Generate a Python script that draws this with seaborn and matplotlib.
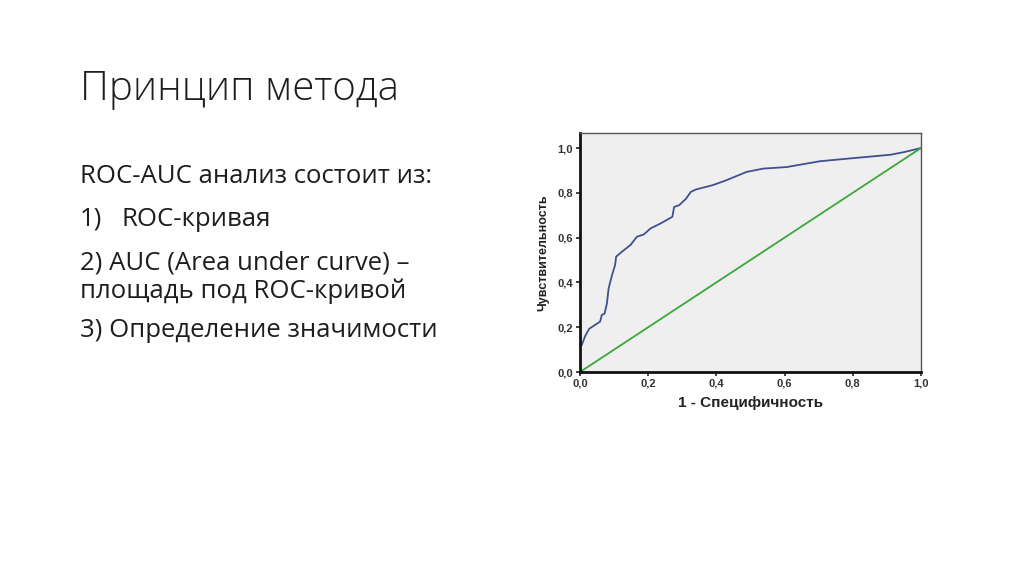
import matplotlib
matplotlib.use("Agg")
import matplotlib.pyplot as plt
import seaborn as sns

# ROC curve (1 - specificity, sensitivity)
fpr = [0.0, 0.005, 0.015, 0.027, 0.044, 0.059, 0.064, 0.072, 0.079, 0.084, 0.094,
       0.103, 0.106, 0.123, 0.148, 0.167, 0.187, 0.207, 0.236, 0.271, 0.276,
       0.291, 0.310, 0.325, 0.340, 0.389, 0.429, 0.488, 0.537, 0.606, 0.704,
       0.803, 0.911, 0.951, 1.0]
tpr = [0.114, 0.12, 0.16, 0.193, 0.21, 0.225, 0.255, 0.26, 0.307, 0.374, 0.433,
       0.478, 0.515, 0.537, 0.567, 0.604, 0.614, 0.641, 0.663, 0.693, 0.737,
       0.745, 0.772, 0.804, 0.815, 0.834, 0.856, 0.893, 0.908, 0.915, 0.941,
       0.955, 0.970, 0.982, 1.0]
ref_x = [0.0, 1.0]
ref_y = [0.0, 1.0]
ticks = [0.0, 0.2, 0.4, 0.6, 0.8, 1.0]
tick_labels = ["0,0", "0,2", "0,4", "0,6", "0,8", "1,0"]

title = "Принцип метода"
lines = ["ROC-AUC анализ состоит из:",
         None,
         "2) AUC (Area under curve) –",
         "площадь под ROC-кривой",
         "3) Определение значимости"]
baselines = [183, 226, 269, 298, 337]

sns.set_style("white")
plt.rcParams["font.family"] = ["Open Sans", "DejaVu Sans"]

fig = plt.figure(figsize=(10.24, 5.76), dpi=100)
fig.patch.set_facecolor("white")

W, H = 1024, 576
TXT = "#1e1e1e"
fig.text(80 / W, 1 - 100 / H, title, fontsize=29, fontweight="light",
         color=TXT, va="baseline", ha="left")
for txt, b in zip(lines, baselines):
    if txt is None:
        continue
    fig.text(80 / W, 1 - b / H, txt, fontsize=18.5, color=TXT,
             va="baseline", ha="left")
fig.text(80 / W, 1 - 226 / H, "1)", fontsize=18.5, color=TXT,
         va="baseline", ha="left")
fig.text(122 / W, 1 - 226 / H, "ROC-кривая", fontsize=18.5, color=TXT,
         va="baseline", ha="left")

ax = fig.add_axes([580 / W, 1 - 372 / H, 341 / W, 239 / H])
ax.set_facecolor("#efefef")
sns.lineplot(x=fpr, y=tpr, ax=ax, estimator=None, sort=False,
             color="#42508f", linewidth=1.3)
sns.lineplot(x=ref_x, y=ref_y, ax=ax, estimator=None, sort=False,
             color="#3aa83a", linewidth=1.3)
ax.set_xlim(0, 1.0)
ax.set_ylim(0, 1.067)
ax.set_xticks(ticks)
ax.set_yticks(ticks)
ax.set_xticklabels(tick_labels)
ax.set_yticklabels(tick_labels)
for lab in ax.get_xticklabels() + ax.get_yticklabels():
    lab.set_family(["Liberation Sans", "DejaVu Sans"])
    lab.set_fontweight("bold")
    lab.set_fontsize(8)
    lab.set_color("#333333")
ax.tick_params(axis="both", direction="out", length=3, width=1.2,
               color="#222222", pad=2, bottom=True, left=True)
for side in ["left", "bottom"]:
    ax.spines[side].set_linewidth(2)
    ax.spines[side].set_color("#111111")
for side in ["top", "right"]:
    ax.spines[side].set_linewidth(1)
    ax.spines[side].set_color("#555555")
ax.set_xlabel("1 - Специфичность", family=["Liberation Sans", "DejaVu Sans"],
              fontweight="bold", fontsize=11, color="#222222", labelpad=5)
ax.set_ylabel("Чувствительность", family=["Liberation Sans Narrow", "Liberation Sans", "DejaVu Sans"],
              fontweight="bold", fontsize=9, color="#222222", labelpad=6)

fig.savefig("out.png", dpi=100)
